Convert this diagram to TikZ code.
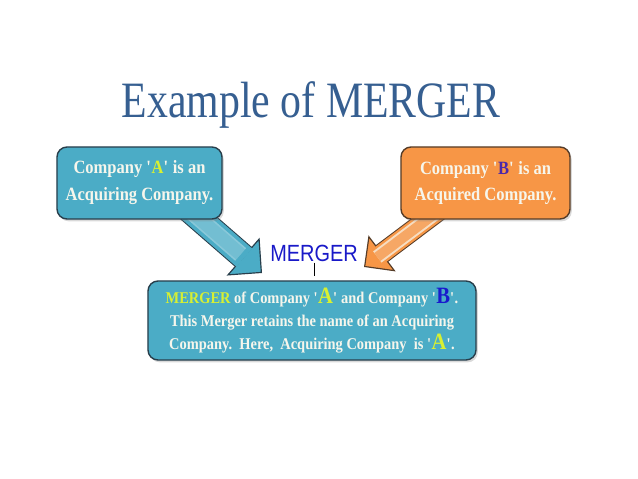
\documentclass[tikz,border=0pt]{standalone}
\usepackage{fontspec}
\setmainfont[FakeStretch=0.88]{Liberation Serif}
\newfontfamily\titlefont[FakeStretch=0.82]{Liberation Serif}
\newfontfamily\labelfont[FakeStretch=0.85]{Liberation Sans}
\usetikzlibrary{positioning, calc, arrows.meta, backgrounds, shadows}
\definecolor{titleblue}{RGB}{54,95,145}
\definecolor{aqua}{RGB}{75,172,198}
\definecolor{darkaqua}{RGB}{40,62,75}
\definecolor{orangebox}{RGB}{247,150,70}
\definecolor{darkorange}{RGB}{85,60,40}
\definecolor{cream}{RGB}{246,246,236}
\definecolor{yellowA}{RGB}{215,240,50}
\definecolor{blueB}{RGB}{25,25,205}
\definecolor{purpleB}{RGB}{75,40,170}
\definecolor{mergeblue}{RGB}{25,25,200}
\newcommand{\qmark}{\textquotesingle}
\newcommand{\bigA}{{\fontsize{20}{19}\selectfont\color{yellowA}A}}
\newcommand{\bigB}{{\fontsize{20}{19}\selectfont\color{blueB}B}}

\begin{document}
\begin{tikzpicture}[
        x=0.03cm, y=-0.03cm,
        title/.style={font=\titlefont\fontsize{43.5}{44}\selectfont, text=titleblue, anchor=base},
        company/.style={rectangle, rounded corners=0.3cm, line width=1.2pt, text=cream, align=center,
            font=\bfseries\fontsize{16}{23}\selectfont, minimum width=4.95cm, minimum height=2.16cm,
            drop shadow={shadow xshift=1.5pt, shadow yshift=-2pt, opacity=0.3}},
        acq/.style={company, draw=darkaqua, fill=aqua},
        tgt/.style={company, draw=darkorange, fill=orangebox, minimum width=5.07cm},
        result/.style={company, draw=darkaqua, fill=aqua, font=\bfseries\fontsize{14}{19.6}\selectfont,
            minimum width=9.84cm, minimum height=2.37cm},
        mergelabel/.style={font=\labelfont\fontsize{20}{20}\selectfont, text=mergeblue, inner sep=1pt},
        bluearrow/.style={draw=darkaqua, line width=0.78cm,
            -{Triangle[length=0.75cm, width=1.5cm, fill=aqua, line width=1pt]},
            postaction={draw=aqua, line width=0.72cm, -, shorten >=0.7cm},
            postaction={draw=white, opacity=0.35, line width=0.05cm, double=aqua,
                double distance=0.4cm, -, shorten >=0.85cm}},
        orangearrow/.style={draw=darkorange, line width=0.62cm,
            -{Triangle[length=0.68cm, width=1.35cm, fill=orangebox, line width=1pt]},
            postaction={draw=orangebox, line width=0.56cm, -, shorten >=0.63cm},
            postaction={draw=cream, opacity=0.75, line width=0.06cm, double=orangebox,
                double distance=0.3cm, -, shorten >=0.5cm}},
    ]
    \useasboundingbox (0,0) rectangle (638,479);

    % ===== Title =====
    \node[title] (T) at (311,118) {Example of MERGER};

    % ===== Companies =====
    \node[acq] (A) at (139.5,183) {Company \qmark{\color{yellowA}A}\qmark{} is an\\Acquiring Company.};
    \node[tgt] (B) at (485.5,183) {Company \qmark{\color{purpleB}B}\qmark{} is an\\Acquired Company.};

    % ===== Result of the merger =====
    \node[result] (M) at (312,320.5) {{\color{yellowA}MERGER} of Company \qmark\bigA\qmark{} and Company \qmark\bigB\qmark.\\
        This Merger retains the name of an Acquiring\\
        Company.\ \ Here,\ \ Acquiring Company\ \ is \qmark\bigA\qmark.};

    \node[mergelabel] (L) at (314,253) {MERGER};
    \draw[line width=0.6pt, shorten >=0.12cm] (L.south) -- (L.south |- M.north);

    % ===== Big arrows =====
    \coordinate (tipA) at (262,273);
    \coordinate (tipB) at (364,267);
    \begin{scope}[on background layer]
        \draw[bluearrow] ($(A.south)+(45,-14)$) -- (tipA);
        \draw[orangearrow] ($(B.south)+(-40,-14)$) -- (tipB);
    \end{scope}

\end{tikzpicture}
\end{document}
